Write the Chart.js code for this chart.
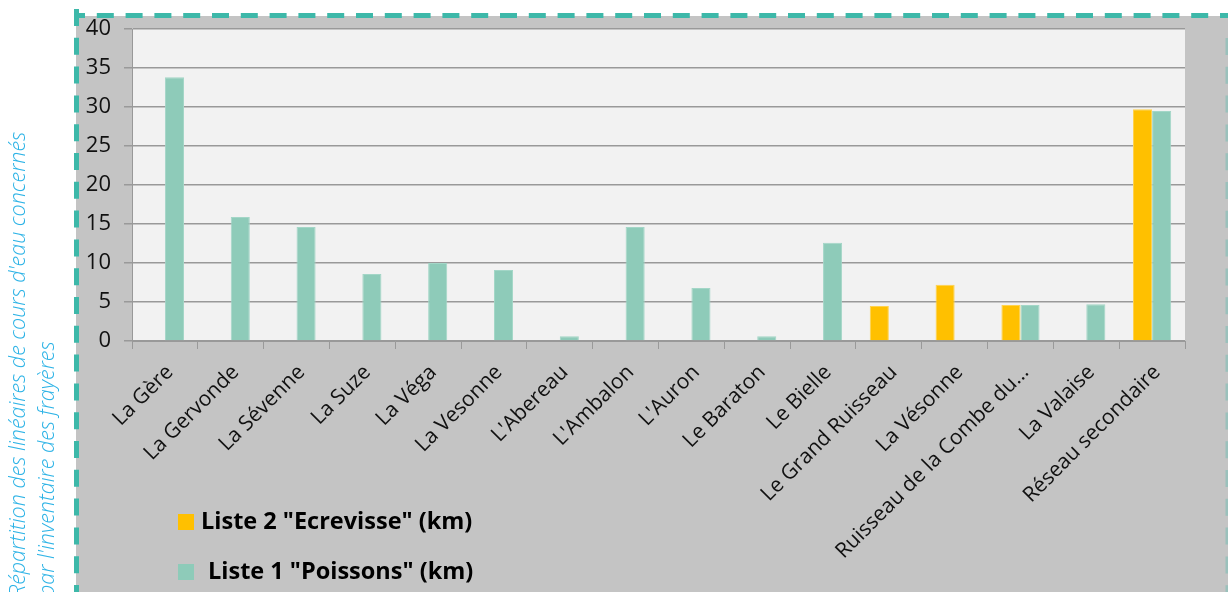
<!DOCTYPE html>
<html>
<head>
<meta charset="utf-8">
<script src="https://cdn.jsdelivr.net/npm/chart.js@4/dist/chart.umd.min.js"></script>
<style>
  html, body { margin: 0; padding: 0; background: #ffffff; overflow: hidden; }
  #wrap { position: relative; width: 1228px; height: 592px; }
  #c { position: absolute; left: 0; top: 0; }
  #sideTitle {
    position: absolute; left: 2px; top: 597px;
    transform: rotate(-90deg); transform-origin: 0 0;
    white-space: nowrap;
    font-family: "Open Sans", sans-serif; font-style: italic; font-weight: 300;
    font-size: 21.5px; line-height: 29px; color: #2db3e6;
  }
</style>
</head>
<body>
<div id="wrap">
  <canvas id="c" width="1228" height="592"></canvas>
  <div id="sideTitle">Répartition des linéaires de cours d'eau concernés<br>par l'inventaire des frayères</div>
</div>
<script>
const categories = [
  "La Gère", "La Gervonde", "La Sévenne", "La Suze", "La Véga", "La Vesonne",
  "L'Abereau", "L'Ambalon", "L'Auron", "Le Baraton", "Le Bielle",
  "Le Grand Ruisseau", "La Vésonne", "Ruisseau de la Combe du...", "La Valaise", "Réseau secondaire"
];
const liste2Ecrevisse = [null, null, null, null, null, null, null, null, null, null, null, 4.5, 7.2, 4.6, null, 29.7];
const liste1Poissons = [33.8, 15.9, 14.6, 8.6, 10.0, 9.1, 0.6, 14.6, 6.8, 0.6, 12.6, null, null, 4.6, 4.7, 29.5];
const seriesNames = ['Liste 2 "Ecrevisse" (km)', 'Liste 1 "Poissons" (km)'];
const yTicks = [0, 5, 10, 15, 20, 25, 30, 35, 40];

const YELLOW = '#ffc000';
const TEAL = '#8ecbb9';

const backgroundPlugin = {
  id: 'bg',
  beforeDraw(chart) {
    const ctx = chart.ctx, a = chart.chartArea;
    ctx.save();
    ctx.fillStyle = '#ffffff';
    ctx.fillRect(0, 0, chart.width, chart.height);
    ctx.fillStyle = '#c4c4c4';
    ctx.fillRect(76, 16, chart.width - 76, chart.height - 16);
    ctx.fillStyle = '#f2f2f2';
    ctx.fillRect(a.left, a.top, a.right - a.left, a.bottom - a.top);
    ctx.restore();
  },
  afterDraw(chart) {
    const ctx = chart.ctx;
    ctx.save();
    ctx.strokeStyle = '#3db8a9';
    ctx.lineWidth = 5;
    ctx.setLineDash([17, 11.8]);
    ctx.lineDashOffset = 6;
    ctx.beginPath();
    ctx.moveTo(74, 15.5);
    ctx.lineTo(chart.width, 15.5);
    ctx.stroke();
    ctx.lineDashOffset = 0;
    ctx.beginPath();
    ctx.moveTo(76.5, 9);
    ctx.lineTo(76.5, chart.height);
    ctx.stroke();
    ctx.globalAlpha = 0.3;
    ctx.lineWidth = 3;
    ctx.beginPath();
    ctx.moveTo(1227, 38);
    ctx.lineTo(1227, chart.height);
    ctx.stroke();
    ctx.restore();

    // legend
    const items = [
      { color: YELLOW, text: seriesNames[0], x: 178, tx: 201, y: 522 },
      { color: TEAL, text: seriesNames[1], x: 178, tx: 208, y: 572 }
    ];
    ctx.save();
    ctx.font = 'bold 23.5px "Open Sans", sans-serif';
    ctx.textBaseline = 'middle';
    items.forEach(it => {
      ctx.fillStyle = it.color;
      ctx.fillRect(it.x, it.y - 8, 16, 16);
      ctx.fillStyle = '#000';
      ctx.fillText(it.text, it.tx, it.y);
    });
    ctx.restore();
  }
};

new Chart(document.getElementById('c'), {
  type: 'bar',
  data: {
    labels: categories,
    datasets: [
      { label: seriesNames[0], data: liste2Ecrevisse, backgroundColor: YELLOW, borderColor: '#ffd24d', borderWidth: 1,
        categoryPercentage: 0.58, barPercentage: 1 },
      { label: seriesNames[1], data: liste1Poissons, backgroundColor: TEAL, borderColor: '#a3d6c7', borderWidth: 1,
        categoryPercentage: 0.58, barPercentage: 1 }
    ]
  },
  options: {
    responsive: false,
    animation: false,
    devicePixelRatio: 1,
    layout: { padding: { left: 80, right: 43, top: 29, bottom: 0 } },
    plugins: { legend: { display: false }, tooltip: { enabled: false }, title: { display: false } },
    scales: {
      x: {
        grid: { display: true, drawOnChartArea: false, drawTicks: true, tickLength: 8, color: '#999999', offset: true },
        border: { display: true, color: '#999999', width: 1 },
        ticks: {
          autoSkip: false, minRotation: 45, maxRotation: 45, padding: 11, labelOffset: 5,
          color: '#111111', font: { family: '"Open Sans", sans-serif', size: 21 }
        },
        afterFit(scale) { scale.height = 251; }
      },
      y: {
        min: 0, max: 40,
        afterBuildTicks(scale) { scale.ticks = yTicks.map(v => ({ value: v })); },
        grid: { color: '#999999', lineWidth: 1.5, drawTicks: true, tickLength: 8 },
        border: { display: true, color: '#999999', width: 1 },
        ticks: {
          padding: 13, color: '#111111',
          font: { family: '"Open Sans", sans-serif', size: 22 }
        },
        afterFit(scale) { scale.width = 52; }
      }
    }
  },
  plugins: [backgroundPlugin]
});
</script>
</body>
</html>
